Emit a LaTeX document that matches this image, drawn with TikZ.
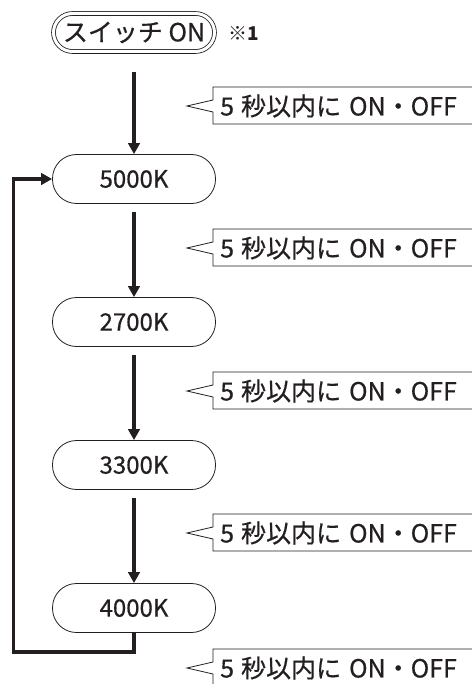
\documentclass[tikz,border=0pt]{standalone}
\usepackage{fontspec}
\setmainfont{Noto Sans CJK JP}
\newfontfamily\medfont{Noto Sans CJK JP}[FakeBold=0.6]
\usetikzlibrary{arrows.meta}
\definecolor{ink}{HTML}{231F20}
\begin{document}
\begin{tikzpicture}[x=1pt,y=-1pt,
  state/.style={draw=ink, line width=0.8pt, rounded corners=24pt, minimum width=163pt,
    minimum height=49pt, inner sep=0pt, font=\medfont\fontsize{24}{24}\selectfont, text=ink},
  startbox/.style={draw=ink, line width=0.8pt, double, double distance=3pt, rounded corners=19pt,
    minimum width=161pt, minimum height=38pt, inner sep=0pt, font=\medfont\fontsize{25}{25}\selectfont, text=ink},
  flow/.style={line width=3.5pt, draw=ink, line join=miter, -{Triangle[width=11.5pt,length=11pt]}},
  callout/.style={draw=ink, line width=0.8pt, line join=miter},
  ctext/.style={anchor=west, inner sep=0pt, font=\medfont\fontsize{25}{25}\selectfont, text=ink},
  note/.style={inner sep=0pt, font=\bfseries\fontsize{19}{19}\selectfont, text=ink}
]
\useasboundingbox (0,0) rectangle (471,684);
\fill[white] (0,0) rectangle (471,684);

\node[startbox] (start) at (134,32.5) {スイッチ ON};
\node[note, anchor=west] (n0note) at (228,33) {※1};

\node[state] (n1) at (134,179) {5000K};
\node[state] (n2) at (134,322) {2700K};
\node[state] (n3) at (134,465) {3300K};
\node[state] (n4) at (134,608) {4000K};

\draw[flow] ([yshift=-20pt]start.south) -- (n1.north);
\draw[flow] ([yshift=-8pt]n1.south) -- (n2.north);
\draw[flow] ([yshift=-8pt]n2.south) -- (n3.north);
\draw[flow] ([yshift=-8pt]n3.south) -- (n4.north);

\coordinate (lb) at (13.5,652);
\draw[flow] (n4.south) |- (lb) |- (n1.west);

\foreach \i/\c in {1/106,2/248,3/391,4/533,5/668} {
  \node[ctext] (c\i) at (220,\c) {5\hspace{7pt}秒以内に\hspace{8pt}ON・OFF};
  \draw[callout] (475,\c-19) -- (213,\c-19) -- (213,\c-6) -- (187,\c) -- (213,\c+6) -- (213,\c+18) -- (475,\c+18);
}
\end{tikzpicture}
\end{document}
